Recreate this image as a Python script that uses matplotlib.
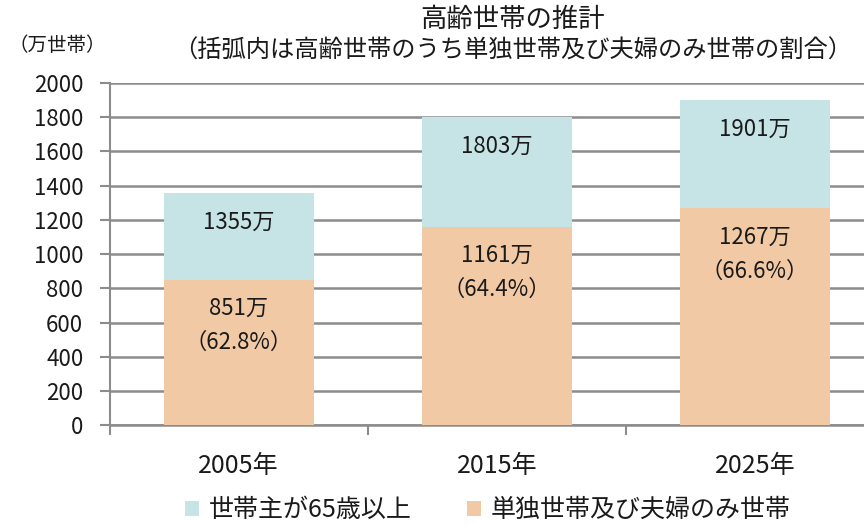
import numpy as np
import matplotlib.pyplot as plt

plt.rcParams['font.family'] = ['Noto Sans CJK JP', 'DejaVu Sans']

years = ['2005年', '2015年', '2025年']
total = [1355, 1803, 1901]          # 世帯主が65歳以上
single_couple = [851, 1161, 1267]   # 単独世帯及び夫婦のみ世帯
share = [62.8, 64.4, 66.6]          # %

c_blue = '#c6e3e6'
c_orange = '#f1c9a5'
c_grid = '#8c8c8c'
c_text = '#1a1a1a'

fig = plt.figure(figsize=(8.64, 5.25), dpi=100)
ax = fig.add_axes([0.127, 0.190, 0.896, 0.652])

x = np.arange(len(years))
rest = np.array(total) - np.array(single_couple)
ax.bar(x, single_couple, width=0.58, color=c_orange, zorder=3,
       label='単独世帯及び夫婦のみ世帯')
ax.bar(x, rest, width=0.58, bottom=single_couple, color=c_blue, zorder=3,
       label='世帯主が65歳以上')

# labels inside bars
for i in range(len(years)):
    ax.annotate(f'{total[i]}万', (x[i], total[i]), textcoords='offset points',
                xytext=(0, -21), ha='center', va='center', fontsize=16,
                color=c_text, zorder=4)
    ax.annotate(f'{single_couple[i]}万', (x[i], single_couple[i]),
                textcoords='offset points', xytext=(0, -21), ha='center',
                va='center', fontsize=16, color=c_text, zorder=4)
    ax.annotate(f'（{share[i]}%）', (x[i], single_couple[i]),
                textcoords='offset points', xytext=(0, -45), ha='center',
                va='center', fontsize=16, color=c_text, zorder=4)

ax.set_ylim(0, 2000)
ax.set_xlim(-0.5, 2.5)
ax.set_yticks(np.arange(0, 2001, 200))
ax.tick_params(axis='y', labelsize=16, length=7, color=c_grid, width=1.5,
               pad=12, labelcolor=c_text)
ax.yaxis.grid(True, color=c_grid, linewidth=1.8, zorder=0)
ax.set_axisbelow(True)

# category boundaries as x ticks, labels centred
ax.set_xticks([-0.5, 0.5, 1.5])
ax.set_xticklabels([])
ax.set_xticks(x, minor=True)
ax.set_xticklabels(years, minor=True, fontsize=18, color=c_text)
ax.tick_params(axis='x', which='major', length=7, color=c_grid, width=1.5)
ax.tick_params(axis='x', which='minor', length=0, pad=20)

for s in ['top', 'right']:
    ax.spines[s].set_visible(False)
ax.spines['left'].set_color(c_grid)
ax.spines['left'].set_linewidth(1.5)
ax.spines['bottom'].set_color(c_grid)
ax.spines['bottom'].set_linewidth(1.8)

fig.text(0.010, 0.913, '（万世帯）', fontsize=14, ha='left', va='center',
         color=c_text)
fig.text(0.593, 0.963, '高齢世帯の推計', fontsize=19, ha='center', va='center',
         color=c_text)
fig.text(0.593, 0.903, '（括弧内は高齢世帯のうち単独世帯及び夫婦のみ世帯の割合）',
         fontsize=17.5, ha='center', va='center', color=c_text)

h, l = ax.get_legend_handles_labels()
leg = fig.legend(h[::-1], l[::-1], loc='center', bbox_to_anchor=(0.565, 0.028),
                 ncol=2, frameon=False, fontsize=18, handlelength=0.55,
                 handleheight=0.55, handletextpad=0.4, columnspacing=2.2)
for t in leg.get_texts():
    t.set_color(c_text)

plt.savefig('out.png', dpi=100)
